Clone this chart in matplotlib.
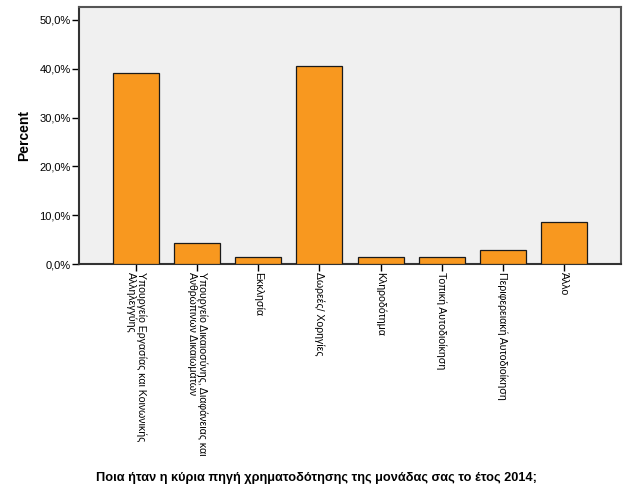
import numpy as np
import matplotlib
matplotlib.use("Agg")
import matplotlib.pyplot as plt
from matplotlib.ticker import FuncFormatter

plt.rcParams['font.family'] = ['Liberation Sans', 'DejaVu Sans']

# kategories kai pososta (n=69)
categories = [
    "Υπουργείο Εργασίας και Κοινωνικής\nΑλληλεγγύης",
    "Υπουργείο Δικαιοσύνης, Διαφάνειας και\nΑνθρώπινων Δικαιωμάτων",
    "Εκκλησία",
    "Δωρεές/ Χορηγίες",
    "Κληροδότημα",
    "Τοπική Αυτοδιοίκηση",
    "Περιφερειακή Αυτοδιοίκηση",
    "Άλλο",
]
percent = [39.1, 4.35, 1.45, 40.6, 1.45, 1.45, 2.9, 8.7]
yticks = [0, 10, 20, 30, 40, 50]

fig = plt.figure(figsize=(6.29, 5.04), dpi=100)
ax = fig.add_axes([79/629, 1 - 264/504, (621-79)/629, (264-7)/504])
ax.set_facecolor('#f0f0f0')

x = np.arange(len(categories))
ax.bar(x, percent, width=0.754, color='#f8981f', edgecolor='#1a1a1a', linewidth=0.9, zorder=3)

ax.set_xlim(-0.94, len(categories) - 0.06)
ax.set_ylim(0, 52.66)
ax.set_yticks(yticks)
ax.yaxis.set_major_formatter(FuncFormatter(lambda v, p: f"{v:.1f}%".replace('.', ',')))
ax.tick_params(axis='y', direction='out', length=5, width=1, labelsize=8, pad=1)
ax.tick_params(axis='x', direction='out', length=5, width=1, pad=1)
ax.set_xticks(x)
ax.set_xticklabels(categories, rotation=270, fontsize=7.6, ha='center', va='top',
                   multialignment='left', linespacing=1.0)

for s in ax.spines.values():
    s.set_color('#555555')
    s.set_linewidth(1.5)
ax.spines['left'].set_color('#333333')
ax.spines['bottom'].set_color('#333333')

ax.set_ylabel("Percent", fontsize=10, fontweight='bold', labelpad=6)
fig.text(0.503, 1 - 478/504, "Ποια ήταν η κύρια πηγή χρηματοδότησης της μονάδας σας το έτος 2014;",
         ha='center', va='center', fontsize=9.2, fontweight='bold')

fig.savefig("out.png", dpi=100)
